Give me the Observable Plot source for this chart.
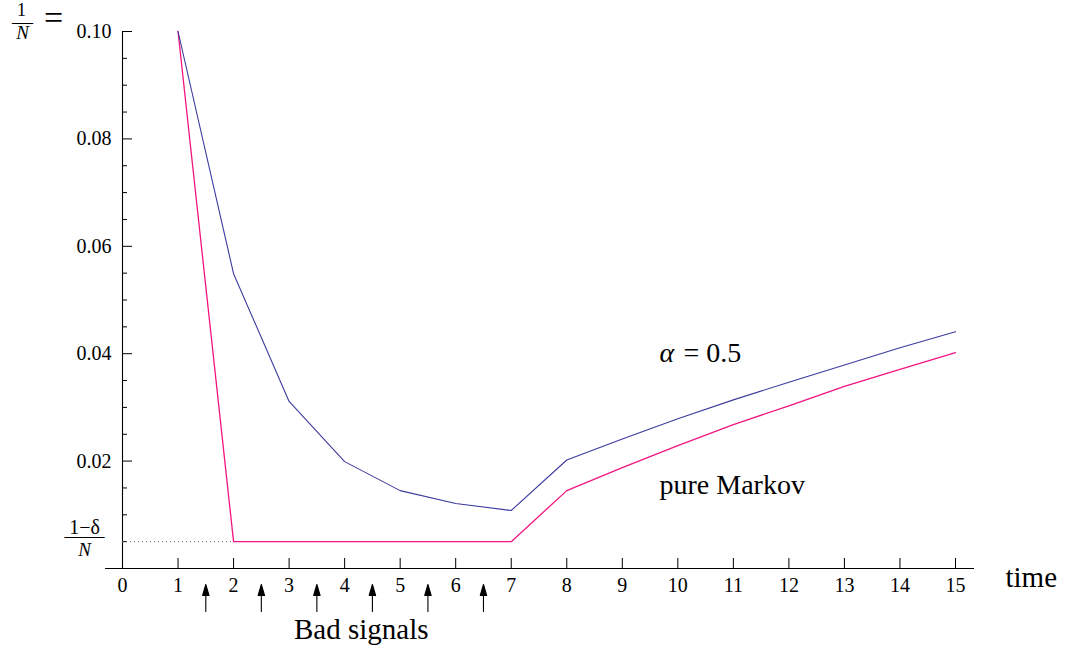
<!DOCTYPE html>
<html>
<head>
<meta charset="utf-8">
<script src="https://cdn.jsdelivr.net/npm/d3@7"></script>
<script src="https://cdn.jsdelivr.net/npm/@observablehq/plot@0.6"></script>
<style>
  html, body { margin: 0; padding: 0; background: #fff; }
  #chart svg { display: block; }
</style>
</head>
<body>
<div id="chart"></div>
<script>
// ---- data ----
const times = [1, 2, 3, 4, 5, 6, 7, 8, 9, 10, 11, 12, 13, 14, 15];
const alphaHalf = [0.100, 0.0549, 0.0311, 0.0199, 0.0145, 0.0121, 0.0108, 0.0202, 0.0241, 0.0279, 0.0314, 0.0347, 0.0379, 0.0411, 0.0441];
const pureMarkov = [0.100, 0.005, 0.005, 0.005, 0.005, 0.005, 0.005, 0.0145, 0.0188, 0.0229, 0.0268, 0.0303, 0.0339, 0.0371, 0.0402];
const floorLevel = 0.005;              // (1-δ)/N
const floorStart = 0, floorEnd = 2;    // dotted guide from t=0 to where pure Markov hits the floor
const xTicks = [0, 1, 2, 3, 4, 5, 6, 7, 8, 9, 10, 11, 12, 13, 14, 15];
const yMajorTicks = [0.02, 0.04, 0.06, 0.08, 0.10];
const yMinorTicks = [0.005, 0.01, 0.015, 0.025, 0.03, 0.035, 0.045, 0.05, 0.055, 0.065, 0.07, 0.075, 0.085, 0.09, 0.095];
const badSignals = [1.5, 2.5, 3.5, 4.5, 5.5, 6.5];
const seriesLabels = [
  {t: 9.67, v: 0.0402, name: "alpha"},
  {t: 9.67, v: 0.0156, name: "pure Markov"}
];
const badSignalsLabel = {t: 4.3, text: "Bad signals"};
const timeLabel = {t: 15.9, text: "time"};

const blue = "#3b3b9e";
const pink = "#f2147f";

const rowsA = times.map((t, i) => ({t, v: alphaHalf[i]}));
const rowsM = times.map((t, i) => ({t, v: pureMarkov[i]}));

const arrowShape = {
  draw(context, l) {
    context.moveTo(0, 0);
    context.lineTo(0, -l + 9);
    context.moveTo(0, -l);
    context.lineTo(-3.2, -l + 11);
    context.lineTo(3.2, -l + 11);
    context.closePath();
  }
};

const font = "Liberation Serif";

const chart = Plot.plot({
  width: 1065,
  height: 649,
  marginLeft: 122,
  marginRight: 110,
  marginTop: 31,
  marginBottom: 81,
  style: {fontFamily: font, fontSize: "20px", background: "#fff", color: "#000"},
  x: {domain: [0, 15]},
  y: {domain: [0, 0.10]},
  marks: [
    // axis lines
    Plot.ruleX([0], {stroke: "#000", strokeWidth: 1.1}),
    Plot.ruleY([0], {stroke: "#000", strokeWidth: 1.1, insetLeft: -17, insetRight: -19}),
    // x ticks (pointing up) and labels
    Plot.axisX({ticks: xTicks, tickSize: 10, dy: -10, tickFormat: () => "", label: null, strokeWidth: 1}),
    Plot.axisX({ticks: xTicks, tickSize: 0, tickPadding: 9, tickFormat: d => String(d), fontSize: 20, label: null}),
    // y ticks (pointing right) and labels
    Plot.axisY({ticks: yMajorTicks, tickSize: 10, dx: 10, tickFormat: () => "", label: null}),
    Plot.axisY({ticks: yMinorTicks, tickSize: 5, dx: 5, tickFormat: () => "", label: null}),
    Plot.axisY({ticks: yMajorTicks, tickSize: 0, tickPadding: 11, tickFormat: d3.format(".2f"), fontSize: 20, label: null}),
    // "1/N =" before 0.10
    Plot.text([0.10], {x: () => 0, y: d => d, text: () => "1", dx: -101, dy: -21, fontSize: 18, textAnchor: "middle"}),
    Plot.text([0.10], {x: () => 0, y: d => d, text: () => "—", dx: -100, dy: -9.5, fontSize: 21, textAnchor: "middle"}),
    Plot.text([0.10], {x: () => 0, y: d => d, text: () => "N", dx: -100, dy: 1, fontSize: 19, fontStyle: "italic", textAnchor: "middle"}),
    Plot.text([0.10], {x: () => 0, y: d => d, text: () => "=", dx: -69, dy: -13, fontSize: 34, textAnchor: "middle"}),
    // (1-δ)/N label at floor level
    Plot.text([floorLevel], {x: () => 0, y: d => d, text: () => "1−δ", dx: -38, dy: -14, fontSize: 20, textAnchor: "middle"}),
    Plot.text([floorLevel], {x: () => 0, y: d => d, text: () => "——", dx: -38, dy: -5.5, fontSize: 20, textAnchor: "middle"}),
    Plot.text([floorLevel], {x: () => 0, y: d => d, text: () => "N", dx: -38, dy: 8, fontSize: 19, fontStyle: "italic", textAnchor: "middle"}),
    // dotted guide
    Plot.ruleY([floorLevel], {x1: floorStart, x2: floorEnd, stroke: "#666", strokeWidth: 1, strokeDasharray: "1,3"}),
    // series
    Plot.line(rowsM, {x: "t", y: "v", stroke: pink, strokeWidth: 1.3}),
    Plot.line(rowsA, {x: "t", y: "v", stroke: blue, strokeWidth: 1.1}),
    // series labels
    Plot.text([seriesLabels[0]], {x: "t", y: "v", text: () => "α", fontStyle: "italic", fontSize: 28, textAnchor: "start"}),
    Plot.text([seriesLabels[0]], {x: "t", y: "v", text: () => "= 0.5", dx: 24, fontSize: 28, textAnchor: "start"}),
    Plot.text([seriesLabels[1]], {x: "t", y: "v", text: "name", fontSize: 28, textAnchor: "start"}),
    // time label
    Plot.text([timeLabel], {x: "t", text: "text", frameAnchor: "bottom", lineAnchor: "middle", dy: 9, fontSize: 29, textAnchor: "start"}),
    // bad signal arrows
    Plot.vector(badSignals, {x: d => d, frameAnchor: "bottom", anchor: "start", length: 27, rotate: 0, dy: 43, shape: arrowShape, stroke: "#000", fill: "#000", strokeWidth: 1.1}),
    Plot.text([badSignalsLabel], {x: "t", text: "text", frameAnchor: "bottom", lineAnchor: "middle", dy: 61, fontSize: 29, textAnchor: "middle"})
  ]
});

document.getElementById("chart").appendChild(chart);
</script>
</body>
</html>
